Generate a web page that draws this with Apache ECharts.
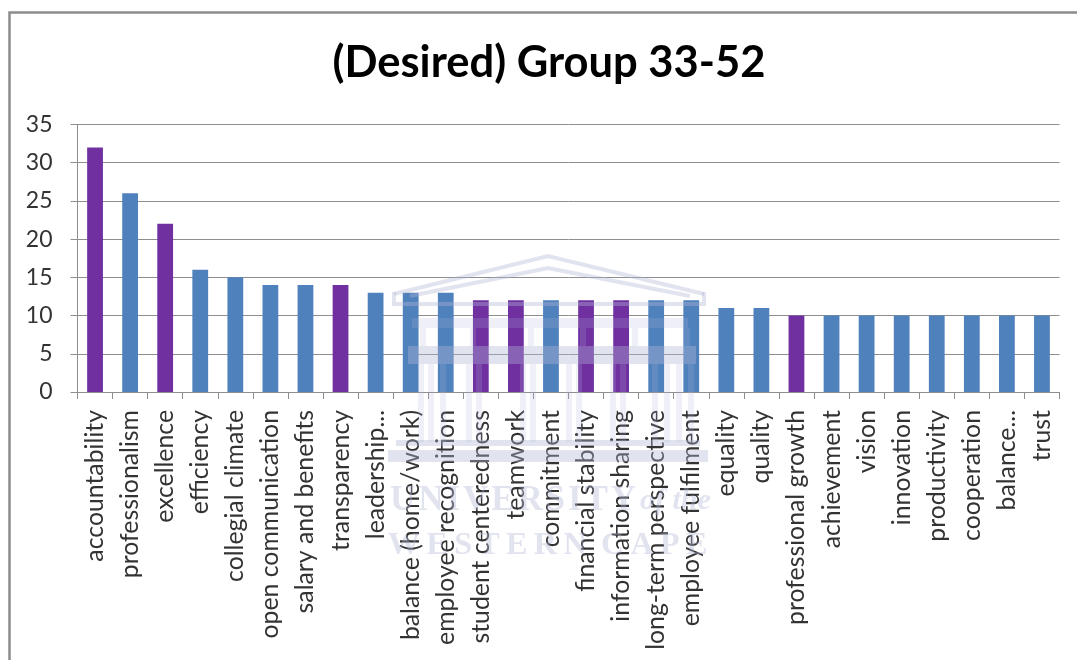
<!DOCTYPE html>
<html><head><meta charset="utf-8">
<style>html,body{margin:0;padding:0;background:#fff}#c{width:1077px;height:660px}</style>
<script src="https://cdn.jsdelivr.net/npm/echarts@6/dist/echarts.min.js"></script>
</head><body><div id="c"></div>
<script>
const categories = ['accountability','professionalism','excellence','efficiency','collegial climate','open communication','salary and benefits','transparency','leadership...','balance (home/work)','employee recognition','student centeredness','teamwork','commitment','financial stability','information sharing','long-term perspective','employee fulfilment','equality','quality','professional growth','achievement','vision','innovation','productivity','cooperation','balance...','trust'];
const values = [32,26,22,16,15,14,14,14,13,13,13,12,12,12,12,12,12,12,11,11,10,10,10,10,10,10,10,10];
const highlighted = ['accountability','excellence','transparency','student centeredness','teamwork','financial stability','information sharing','professional growth'];
const yTicks = {min:0,max:35,interval:5};
const BLUE='#4F81BD', PURPLE='#7030A0', GRID='#8E8E8E', TEXT='#333333';
const WM='rgba(176,182,214,0.38)', WM2='rgba(176,182,214,0.2)';
const font='Lato';

const wm=[];
const poly=(pts,w,c)=>wm.push({type:'polyline',z:50,silent:true,shape:{points:pts},style:{stroke:c||WM,lineWidth:w||3,fill:null}});
const box=(x,y,w,h,c)=>wm.push({type:'rect',z:50,silent:true,shape:{x,y,width:w,height:h},style:{fill:c||WM}});
poly([[394,294],[548,256],[704,294]],4);
poly([[410,296],[548,268],[690,296]],4);
poly([[394,292],[394,304],[704,304],[704,292]],4);
box(412,318,276,10,WM2);
box(408,346,288,18);
[418,428,440,466,476,520,530,566,576,610,620,652,664,676,688].forEach(x=>box(x,364,6,78,WM2));
[420,470,528,580,632,684].forEach(x=>box(x,328,6,18,WM2));
box(396,440,304,6);
box(388,450,320,12);

const option={
  animation:false,
  backgroundColor:'#fff',
  title:{text:'(Desired) Group 33-52',left:544,top:36,textAlign:'center',
    textStyle:{fontFamily:font,fontWeight:'bold',fontSize:43.5,color:'#000'}},
  grid:{left:77.5,right:17.5,top:124.5,height:267.5,containLabel:false},
  xAxis:{type:'category',data:categories,boundaryGap:true,
    axisLine:{lineStyle:{color:GRID,width:1}},
    axisTick:{show:true,length:7,alignWithLabel:false,interval:0,lineStyle:{color:GRID}},
    axisLabel:{interval:0,rotate:90,margin:18,fontFamily:font,fontSize:24.8,color:TEXT,hideOverlap:false},
    splitLine:{show:false}},
  yAxis:{type:'value',min:yTicks.min,max:yTicks.max,interval:yTicks.interval,
    axisLine:{show:true,lineStyle:{color:GRID,width:1}},
    axisTick:{show:true,length:7,lineStyle:{color:GRID}},
    axisLabel:{margin:25,fontFamily:font,fontSize:23,color:TEXT},
    splitLine:{show:true,lineStyle:{color:GRID,width:1}}},
  series:[{type:'bar',barWidth:'45%',
    data:values.map((v,i)=>({value:v,itemStyle:{color:highlighted.includes(categories[i])?PURPLE:BLUE}}))}],
  graphic:[
    {type:'rect',z:40,silent:true,shape:{x:9.5,y:12.5,width:1100,height:700},style:{fill:null,stroke:'#8c8c8c',lineWidth:2.5}},
    ...wm,
    {type:'text',z:50,silent:true,x:390,y:483,style:{text:'U\u200aN\u200aI\u200aV\u200aE\u200aR\u200aS\u200aI\u200aT\u200aY',fontFamily:'Liberation Serif',fontWeight:'bold',fontSize:35,fill:WM}},
    {type:'text',z:50,silent:true,x:640,y:486,style:{text:'of the',fontFamily:'Liberation Serif',fontStyle:'italic',fontWeight:'bold',fontSize:30,fill:WM}},
    {type:'text',z:50,silent:true,x:388,y:530,style:{text:'W\u2009E\u2009S\u2009T\u2009E\u2009R\u2009N\u2009 C\u2009A\u2009P\u2009E',fontFamily:'Liberation Serif',fontWeight:'bold',fontSize:32,fill:WM}}
  ]
};
echarts.init(document.getElementById('c'),null,{renderer:'canvas'}).setOption(option);
</script></body></html>
